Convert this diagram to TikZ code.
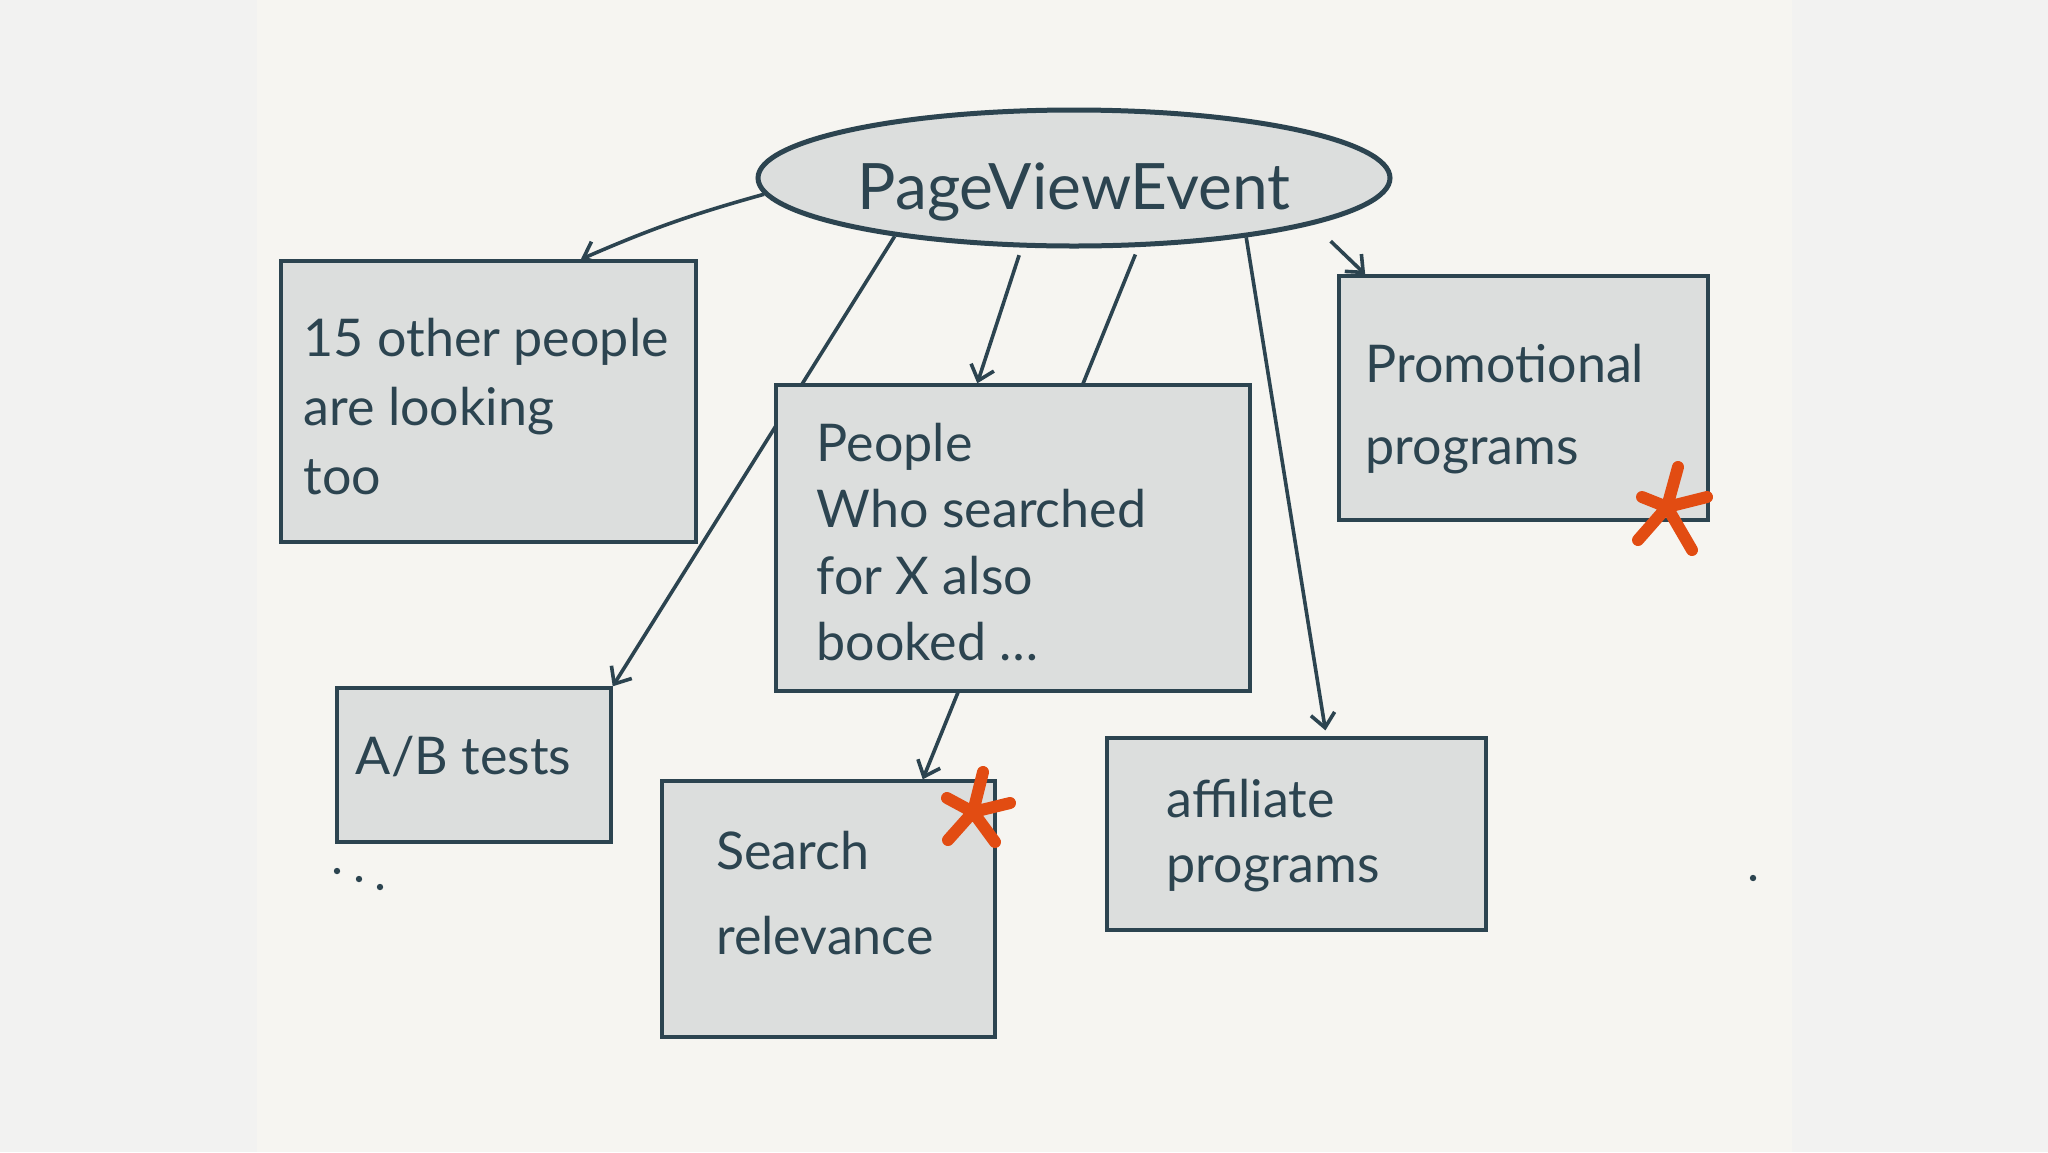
\documentclass[tikz,border=0pt]{standalone}
\usepackage{fontspec}
\setmainfont{Lato}
\usetikzlibrary{arrows.meta,shapes.geometric}

\definecolor{ink}{RGB}{44,68,80}
\definecolor{boxfill}{RGB}{220,222,221}
\definecolor{sidebg}{RGB}{242,242,241}
\definecolor{panelbg}{RGB}{246,245,241}
\definecolor{starred}{RGB}{226,76,18}

\pgfdeclarelayer{background}
\pgfsetlayers{background,main}

\tikzset{every picture/.style={line width=0.75pt}}
\tikzset{
  card/.style={draw=ink, fill=boxfill, line width=1.7pt, inner sep=0pt},
  hand/.style={text=ink, align=left, inner sep=0pt, anchor=north west},
  conn/.style={draw=ink, line width=1.8pt, -{Straight Barb[length=7pt,width=12pt]}},
  splat/.style={draw=starred, line width=6pt, line cap=round},
}

\begin{document}
\begin{tikzpicture}[x=1pt,y=1pt,yscale=-1,xscale=1]
\useasboundingbox (0,0) rectangle (1024,576);

%Shape: Ellipse [event]
\node[ellipse, draw=ink, fill=boxfill, line width=2.5pt, inner sep=0pt,
      minimum width=316pt, minimum height=68pt, text=ink,
      font=\fontsize{32}{38}\selectfont] (event) at (537,89) {\raisebox{-7pt}[\height][\depth]{PageViewEvent}};

%Shape: Rectangle [boxes]
\node[card, minimum width=207.5pt, minimum height=140.5pt] (others) at (244.25,200.75) {};
\node[card, minimum width=237pt, minimum height=153pt] (booked) at (506.5,269) {};
\node[card, minimum width=184.5pt, minimum height=122pt] (promo) at (761.75,199) {};
\node[card, minimum width=137pt, minimum height=77pt] (abtests) at (237,382.5) {};
\node[card, minimum width=166.5pt, minimum height=128pt] (search) at (414.25,454.5) {};
\node[card, minimum width=189.5pt, minimum height=96pt] (affil) at (648.25,417) {};

% Text Node
\node[hand, font=\fontsize{26}{34.6}\selectfont] (others-txt) at (151.5,158.6) {15 other people\\are looking\\too};
% Text Node
\node[hand, font=\fontsize{26}{33.3}\selectfont] (booked-txt) at (408,211) {People\\Who searched\\for X also\\booked \ldots};
% Text Node
\node[hand, font=\fontsize{26}{41}\selectfont] (promo-txt) at (682.4,171.7) {Promotional\\programs};
% Text Node
\node[hand, font=\fontsize{26}{34}\selectfont] (abtests-txt) at (177.6,367.6) {A/B tests};
% Text Node
\node[hand, font=\fontsize{26}{42.5}\selectfont] (search-txt) at (357.8,415) {Search\\relevance};
% Text Node
\node[hand, font=\fontsize{26}{32.7}\selectfont] (affil-txt) at (583,389) {affiliate\\programs};

\begin{pgfonlayer}{background}
%Shape: Rectangle [page]
\fill[sidebg] (0,0) rectangle (1024,576);
\fill[panelbg] (128.5,0) rectangle (896,576);
%Straight Lines [arrows]
\draw[conn] (event.183) to[bend left=4] (others.57);
\draw[conn] (event.198) -- (abtests.north east);
\draw[conn, shorten <=4pt] (event.233) -- (booked.103);
\draw[conn, shorten <=4pt] (event.313) -- (search.54);
\draw[conn, shorten >=3pt] (event.341) -- (affil.73);
\draw[conn, shorten <=12pt] (event.349) -- (promo.142);
\end{pgfonlayer}

%Shape: Star [marks]
\draw[splat] (833.5,253.5) -- (839,233.5) (833.5,253.5) -- (821,248.5)
  (833.5,253.5) -- (853.5,248.5) (833.5,253.5) -- (819,270) (833.5,253.5) -- (846,275);
\draw[splat] (486.5,406) -- (491.5,386) (486.5,406) -- (473.5,399)
  (486.5,406) -- (505,401.5) (486.5,406) -- (474,420) (486.5,406) -- (497.5,421);

%Shape: Dots
\fill[ink] (168.5,435.5) circle (1.6pt) (179.5,439.5) circle (1.6pt) (190,443.5) circle (1.6pt);
\fill[ink] (876.5,439) circle (1.6pt);

\end{tikzpicture}
\end{document}
